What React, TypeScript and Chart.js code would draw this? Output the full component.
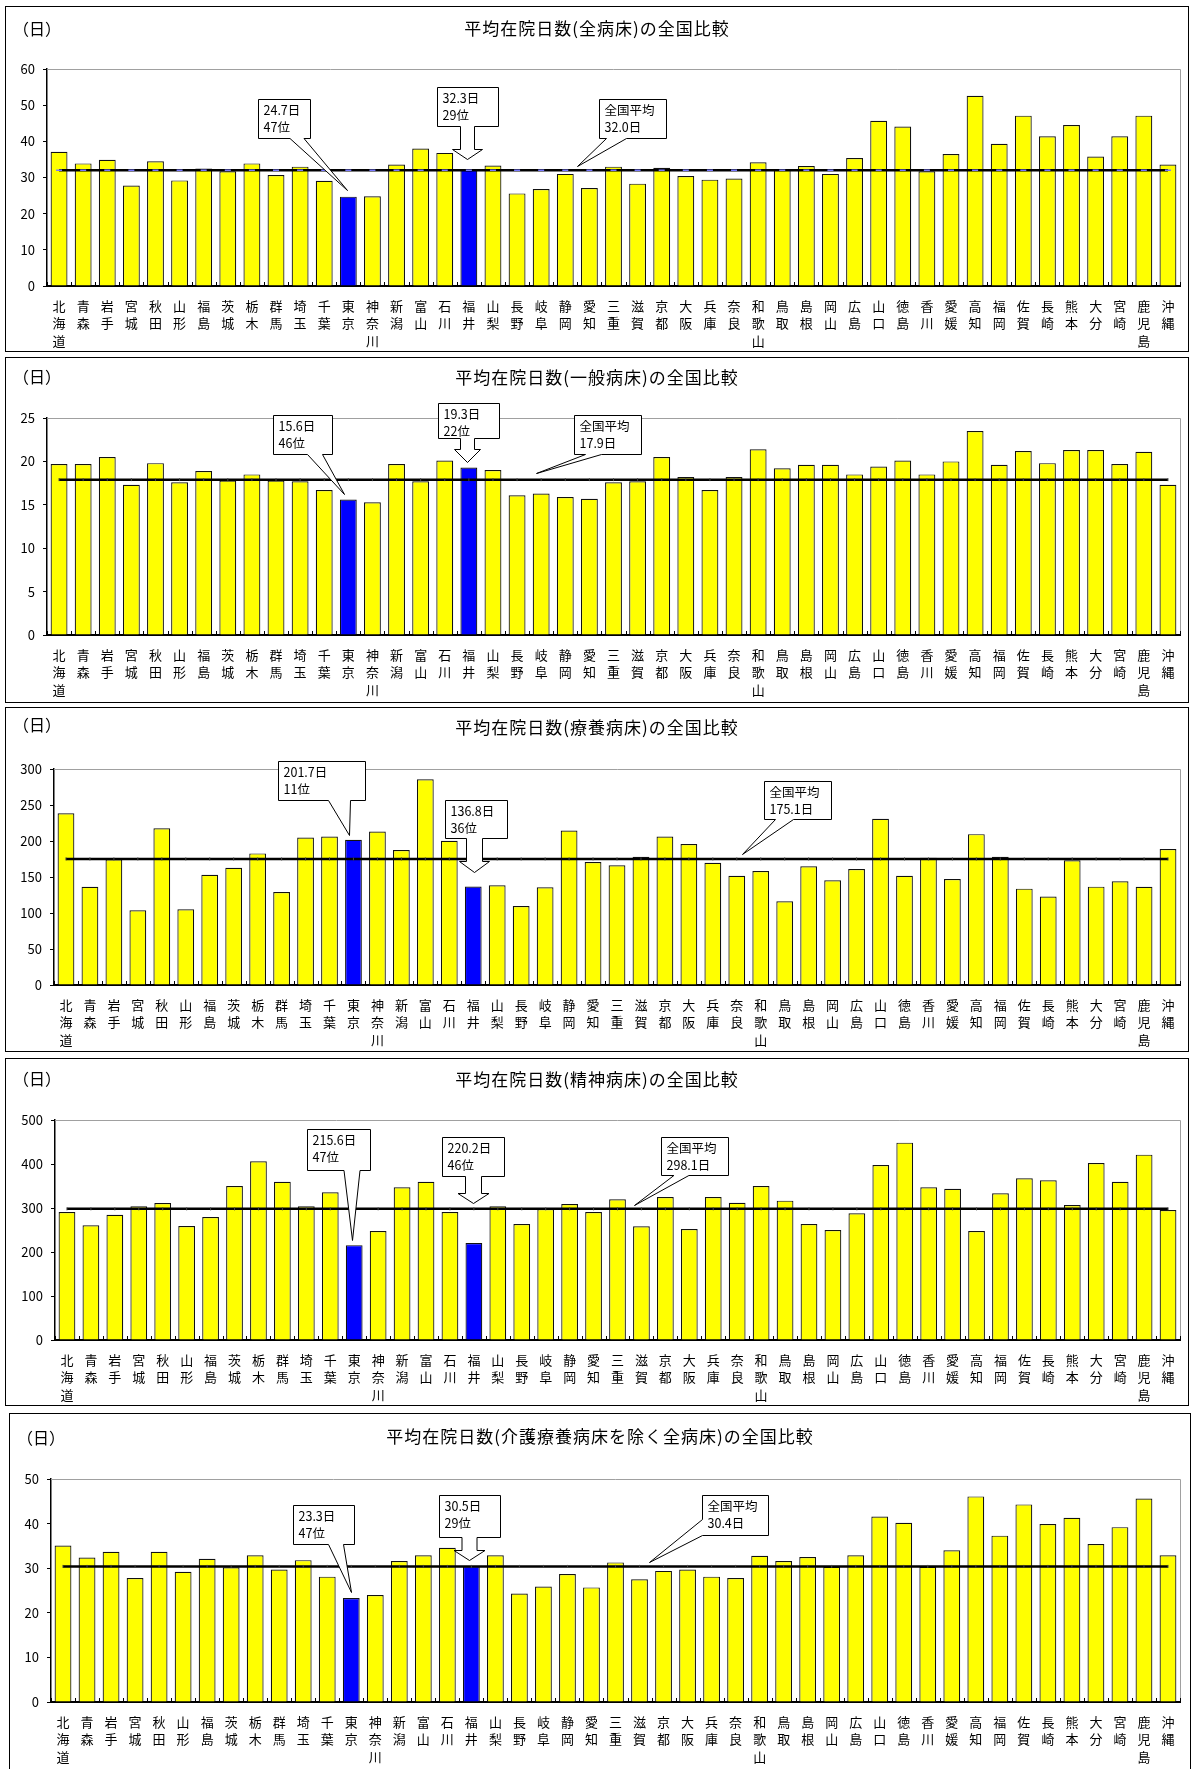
import React, { useEffect, useRef } from 'react';
import { Chart, registerables } from 'chart.js';

Chart.register(...registerables);

const FONT = "'Noto Sans CJK JP', 'Noto Sans', sans-serif";
Chart.defaults.font.family = FONT;

// ---------- data ----------
const prefectures = [
  '北海道', '青森', '岩手', '宮城', '秋田', '山形', '福島', '茨城', '栃木', '群馬', '埼玉', '千葉',
  '東京', '神奈川', '新潟', '富山', '石川', '福井', '山梨', '長野', '岐阜', '静岡', '愛知', '三重',
  '滋賀', '京都', '大阪', '兵庫', '奈良', '和歌山', '鳥取', '島根', '岡山', '広島', '山口', '徳島',
  '香川', '愛媛', '高知', '福岡', '佐賀', '長崎', '熊本', '大分', '宮崎', '鹿児島', '沖縄',
];

const highlightIdx = [12, 17]; // 東京, 福井

const allBedsDays = [
  37.1, 33.9, 34.9, 27.8, 34.5, 29.2, 32.5, 31.7, 33.9, 30.7, 33.0, 29.1,
  24.7, 24.8, 33.6, 38.0, 36.8, 32.3, 33.3, 25.6, 26.8, 31.0, 27.1, 33.0,
  28.3, 32.7, 30.4, 29.4, 29.7, 34.2, 32.1, 33.2, 31.0, 35.4, 45.7, 44.1,
  31.7, 36.5, 52.6, 39.3, 47.1, 41.4, 44.5, 35.8, 41.4, 47.1, 33.6,
];
const generalBedsDays = [
  19.7, 19.7, 20.5, 17.3, 19.8, 17.6, 18.9, 17.8, 18.5, 17.8, 17.7, 16.7,
  15.6, 15.3, 19.7, 17.7, 20.1, 19.3, 19.0, 16.1, 16.3, 15.9, 15.7, 17.6,
  17.7, 20.5, 18.2, 16.7, 18.2, 21.4, 19.2, 19.6, 19.6, 18.5, 19.4, 20.1,
  18.5, 20.0, 23.5, 19.6, 21.2, 19.8, 21.3, 21.3, 19.7, 21.1, 17.3,
];
const longTermBedsDays = [
  238.6, 136.5, 174.5, 103.8, 217.8, 105.2, 153.2, 162.9, 182.8, 129.2, 204.9, 206.3,
  201.7, 213.2, 187.4, 285.7, 200.3, 136.8, 138.5, 109.8, 135.7, 214.6, 170.8, 166.2,
  178.2, 206.3, 195.7, 169.8, 151.8, 158.3, 116.3, 164.8, 145.4, 161.1, 230.8, 151.8,
  176.8, 147.2, 209.5, 178.2, 133.8, 122.8, 173.1, 136.6, 144.0, 136.3, 188.8,
];
const psychBedsDays = [
  290.9, 260.6, 284.8, 303.8, 311.4, 259.1, 279.5, 350.0, 406.1, 359.8, 303.8, 335.6,
  215.6, 247.7, 347.0, 359.8, 290.9, 220.2, 303.8, 263.6, 297.7, 309.1, 290.9, 319.7,
  258.3, 325.0, 252.3, 325.0, 312.1, 350.0, 316.7, 263.6, 250.0, 287.9, 397.7, 448.5,
  347.0, 343.9, 247.7, 333.3, 367.4, 362.9, 306.8, 402.3, 359.8, 421.2, 295.5,
];
const exclCareBedsDays = [
  35.1, 32.4, 33.7, 27.8, 33.7, 29.2, 32.1, 30.2, 32.9, 29.7, 31.8, 28.1,
  23.3, 24.0, 31.6, 32.9, 34.6, 30.5, 32.9, 24.3, 25.9, 28.7, 25.7, 31.3,
  27.5, 29.4, 29.7, 28.1, 27.8, 32.8, 31.6, 32.5, 30.3, 32.9, 41.6, 40.2,
  30.3, 34.0, 46.1, 37.3, 44.3, 39.9, 41.3, 35.4, 39.2, 45.6, 32.9,
];

const nationalAverages = [32.0, 17.9, 175.1, 298.1, 30.4];
const axisMax = [60, 25, 300, 500, 50];
const axisStep = [10, 5, 50, 100, 10];
const titles = [
  '平均在院日数(全病床)の全国比較',
  '平均在院日数(一般病床)の全国比較',
  '平均在院日数(療養病床)の全国比較',
  '平均在院日数(精神病床)の全国比較',
  '平均在院日数(介護療養病床を除く全病床)の全国比較',
];
const tokyoLabels = [['24.7日', '47位'], ['15.6日', '46位'], ['201.7日', '11位'], ['215.6日', '47位'], ['23.3日', '47位']];
const fukuiLabels = [['32.3日', '29位'], ['19.3日', '22位'], ['136.8日', '36位'], ['220.2日', '46位'], ['30.5日', '29位']];
const averageLabels = [['全国平均', '32.0日'], ['全国平均', '17.9日'], ['全国平均', '175.1日'], ['全国平均', '298.1日'], ['全国平均', '30.4日']];
const seriesList = [allBedsDays, generalBedsDays, longTermBedsDays, psychBedsDays, exclCareBedsDays];

// ---------- layout / callout geometry ----------
type Callout = {
  kind: 'wedge' | 'arrow';
  at: number;
  dx: number;
  value: number;
  box: [number, number, number, number];
  edge?: 'bottom' | 'left';
  a?: number;
  b?: number;
  sw?: number;
  hw?: number;
  shaftEnd?: number;
  lines: string[];
};

type PanelCfg = {
  left: number; top: number; w: number; h: number;
  plotLeft: number; plotRight: number; plotTop: number; plotBottom: number;
  unitY: number; titleY: number;
  markerBlue: boolean;
  callouts: Callout[];
};

const panels: PanelCfg[] = [
  {
    left: 5, top: 6, w: 1184, h: 346, plotLeft: 41, plotRight: 1174, plotTop: 62, plotBottom: 279,
    unitY: 21, titleY: 21, markerBlue: true,
    callouts: [
      { kind: 'wedge', at: 12, dx: -1, value: 26.5, box: [-89.5, -92, 52, 39], edge: 'bottom', a: 31.5, b: 45.5, lines: tokyoLabels[0] },
      { kind: 'arrow', at: 17, dx: -2, value: 35.1, box: [-30.7, -73, 61, 39], sw: 14, hw: 30, shaftEnd: -11, lines: fukuiLabels[0] },
      { kind: 'wedge', at: 21.5, dx: 0, value: 33.2, box: [21, -68, 67, 39], edge: 'bottom', a: 7, b: 27, lines: averageLabels[0] },
    ],
  },
  {
    left: 5, top: 357, w: 1184, h: 346, plotLeft: 41, plotRight: 1174, plotTop: 60, plotBottom: 277,
    unitY: 18, titleY: 19, markerBlue: false,
    callouts: [
      { kind: 'wedge', at: 12, dx: -4, value: 16.2, box: [-72, -80, 59, 39], edge: 'bottom', a: 34, b: 49, lines: tokyoLabels[1] },
      { kind: 'arrow', at: 17, dx: -2, value: 19.9, box: [-30, -60, 61, 35], sw: 14, hw: 26, shaftEnd: -14, lines: fukuiLabels[1] },
      { kind: 'wedge', at: 19.8, dx: 0, value: 18.7, box: [37, -59, 67, 39], edge: 'bottom', a: 11, b: 27, lines: averageLabels[1] },
    ],
  },
  {
    left: 5, top: 707, w: 1184, h: 345, plotLeft: 48, plotRight: 1174, plotTop: 61, plotBottom: 277,
    unitY: 16, titleY: 19, markerBlue: false,
    callouts: [
      { kind: 'wedge', at: 12, dx: -4, value: 208.3, box: [-72, -75, 87, 39], edge: 'bottom', a: 50, b: 72, lines: tokyoLabels[2] },
      { kind: 'arrow', at: 17, dx: 1, value: 157, box: [-30, -73, 62, 38], sw: 16, hw: 30, shaftEnd: -12, lines: fukuiLabels[2] },
      { kind: 'wedge', at: 28.2, dx: 0, value: 182, box: [21, -74, 67, 38], edge: 'bottom', a: 11, b: 29, lines: averageLabels[2] },
    ],
  },
  {
    left: 5, top: 1058, w: 1184, h: 348, plotLeft: 49, plotRight: 1174, plotTop: 61, plotBottom: 281,
    unitY: 19, titleY: 20, markerBlue: false,
    callouts: [
      { kind: 'wedge', at: 12, dx: -2, value: 227, box: [-45.5, -112, 62.5, 41], edge: 'bottom', a: 36.5, b: 52.5, lines: tokyoLabels[3] },
      { kind: 'arrow', at: 17, dx: -1, value: 311, box: [-31.4, -67, 62.4, 39], sw: 16, hw: 31, shaftEnd: -11, lines: fukuiLabels[3] },
      { kind: 'wedge', at: 23.7, dx: 0, value: 307, box: [26.6, -69, 67.4, 38], edge: 'bottom', a: 12.4, b: 27.4, lines: averageLabels[3] },
    ],
  },
  {
    left: 9, top: 1413, w: 1182, h: 380, plotLeft: 41, plotRight: 1170, plotTop: 65, plotBottom: 288,
    unitY: 23, titleY: 22, markerBlue: false,
    callouts: [
      { kind: 'wedge', at: 12, dx: 0, value: 24.7, box: [-59, -88, 60.5, 39], edge: 'bottom', a: 35, b: 50, lines: tokyoLabels[4] },
      { kind: 'arrow', at: 17, dx: -2, value: 31.8, box: [-30.3, -66, 61.3, 42], sw: 15, hw: 31, shaftEnd: -11, lines: fukuiLabels[4] },
      { kind: 'wedge', at: 24.4, dx: 0, value: 31.4, box: [52, -68, 66, 40], edge: 'left', a: 24, b: 40, lines: averageLabels[4] },
    ],
  },
];

function drawCallouts(chart: any, callouts: Callout[]) {
  const { ctx } = chart;
  const xs = chart.scales.x;
  const ys = chart.scales.y;
  ctx.save();
  ctx.lineWidth = 1;
  ctx.strokeStyle = '#000';
  ctx.lineJoin = 'miter';
  for (const c of callouts) {
    const tx = Math.round(xs.getPixelForValue(c.at) + c.dx) + 0.5;
    const ty = Math.round(ys.getPixelForValue(c.value)) + 0.5;
    const L = Math.round(tx + c.box[0]) + 0.5;
    const T = Math.round(ty + c.box[1]) + 0.5;
    const R = L + Math.round(c.box[2]);
    const B = T + Math.round(c.box[3]);
    ctx.beginPath();
    ctx.moveTo(L, T);
    ctx.lineTo(R, T);
    ctx.lineTo(R, B);
    if (c.kind === 'arrow') {
      const sw = (c.sw || 14) / 2;
      const hw = (c.hw || 30) / 2;
      const sy = Math.round(ty + (c.shaftEnd || -10)) + 0.5;
      ctx.lineTo(tx + sw, B);
      ctx.lineTo(tx + sw, sy);
      ctx.lineTo(tx + hw, sy);
      ctx.lineTo(tx, ty);
      ctx.lineTo(tx - hw, sy);
      ctx.lineTo(tx - sw, sy);
      ctx.lineTo(tx - sw, B);
      ctx.lineTo(L, B);
    } else if (c.edge === 'left') {
      ctx.lineTo(L, B);
      ctx.lineTo(L, T + (c.b || 0));
      ctx.lineTo(tx, ty);
      ctx.lineTo(L, T + (c.a || 0));
    } else {
      ctx.lineTo(L + (c.b || 0), B);
      ctx.lineTo(tx, ty);
      ctx.lineTo(L + (c.a || 0), B);
      ctx.lineTo(L, B);
    }
    ctx.closePath();
    ctx.fillStyle = '#fff';
    ctx.fill();
    ctx.stroke();
    ctx.fillStyle = '#000';
    ctx.font = `12.5px ${FONT}`;
    ctx.textBaseline = 'middle';
    ctx.textAlign = 'left';
    c.lines.forEach((t, i) => ctx.fillText(t, L + 5, T + 11 + i * 17));
  }
  ctx.restore();
}

function ChartPanel({ idx }: { idx: number }) {
  const ref = useRef<HTMLCanvasElement>(null);
  const cfg = panels[idx];
  const W = cfg.w - 2;
  const H = cfg.h - 2;

  useEffect(() => {
    const values = seriesList[idx];
    const avg = nationalAverages[idx];
    const decorPlugin = {
      id: 'decor' + idx,
      beforeDatasetsDraw(chart: any) {
        const { ctx, chartArea: a } = chart;
        ctx.save();
        ctx.strokeStyle = '#a0a0a0';
        ctx.lineWidth = 1;
        ctx.beginPath();
        ctx.moveTo(a.left, Math.round(a.top) + 0.5);
        ctx.lineTo(Math.round(a.right) + 0.5, Math.round(a.top) + 0.5);
        ctx.lineTo(Math.round(a.right) + 0.5, a.bottom);
        ctx.stroke();
        ctx.restore();
      },
      afterDatasetsDraw(chart: any) {
        const { ctx, chartArea: a } = chart;
        const xs = chart.scales.x;
        ctx.save();
        ctx.strokeStyle = '#000';
        ctx.lineWidth = 1;
        ctx.beginPath();
        for (let i = 0; i <= prefectures.length; i++) {
          const x = Math.round(xs.getPixelForValue(i - 0.5)) + 0.5;
          ctx.moveTo(x, a.bottom);
          ctx.lineTo(x, a.bottom - 4);
        }
        ctx.stroke();
        ctx.restore();
        drawCallouts(chart, cfg.callouts);
      },
    };

    const chart = new Chart(ref.current as HTMLCanvasElement, {
      type: 'bar',
      data: {
        labels: prefectures.map((p) => Array.from(p)),
        datasets: [
          {
            type: 'line',
            data: prefectures.map(() => avg),
            borderColor: '#000',
            borderWidth: 2.5,
            tension: 0,
            fill: false,
            pointStyle: 'line',
            pointRadius: cfg.markerBlue ? 3 : 1.5,
            pointRotation: cfg.markerBlue ? 0 : 90,
            pointBorderColor: cfg.markerBlue ? '#7a7aff' : '#444',
            pointBorderWidth: cfg.markerBlue ? 1.5 : 1,
            order: 0,
          } as any,
          {
            type: 'bar',
            data: values,
            backgroundColor: values.map((_, i) => (highlightIdx.includes(i) ? '#0000ff' : '#ffff00')),
            borderColor: '#111',
            borderWidth: 1.2,
            barPercentage: 0.7,
            categoryPercentage: 1,
            order: 1,
          } as any,
        ],
      },
      options: {
        animation: false,
        responsive: false,
        maintainAspectRatio: false,
        events: [],
        layout: { padding: { top: cfg.plotTop, right: W - cfg.plotRight, left: 0, bottom: 0 } },
        plugins: { legend: { display: false }, tooltip: { enabled: false }, title: { display: false } },
        scales: {
          x: {
            offset: true,
            grid: { display: false, drawTicks: false },
            border: { display: true, color: '#000', width: 2 },
            ticks: {
              autoSkip: false,
              maxRotation: 0,
              minRotation: 0,
              padding: 11,
              color: '#000',
              font: { family: FONT, size: 13, lineHeight: '17.5px' } as any,
            },
            afterFit: (s: any) => {
              s.height = H - cfg.plotBottom;
            },
          },
          y: {
            min: 0,
            max: axisMax[idx],
            ticks: { stepSize: axisStep[idx], padding: 8, color: '#000', font: { family: FONT, size: 13 } },
            grid: { drawOnChartArea: false, drawTicks: true, tickLength: 4, color: '#000' },
            border: { color: '#000', width: 1.5 },
            afterFit: (s: any) => {
              s.width = cfg.plotLeft;
            },
          },
        },
      } as any,
      plugins: [decorPlugin],
    });
    return () => chart.destroy();
  }, []);

  return (
    <div
      style={{
        position: 'absolute',
        left: cfg.left,
        top: cfg.top,
        width: cfg.w,
        height: cfg.h,
        border: '1px solid #000',
        boxSizing: 'border-box',
        background: '#fff',
      }}
    >
      <canvas ref={ref} width={W} height={H} style={{ position: 'absolute', left: 0, top: 0, width: W, height: H }} />
      <div
        style={{
          position: 'absolute',
          left: 7,
          top: cfg.unitY,
          transform: 'translateY(-50%)',
          font: `16px ${FONT}`,
          lineHeight: '18px',
          color: '#000',
          whiteSpace: 'nowrap',
        }}
      >
        （日）
      </div>
      <div
        style={{
          position: 'absolute',
          left: 0,
          width: '100%',
          top: cfg.titleY,
          transform: 'translateY(-50%)',
          textAlign: 'center',
          font: `17px ${FONT}`,
          letterSpacing: '1px',
          lineHeight: '20px',
          color: '#000',
          whiteSpace: 'nowrap',
        }}
      >
        {titles[idx]}
      </div>
    </div>
  );
}

export default function App() {
  return (
    <div
      style={{
        position: 'absolute',
        left: 0,
        top: 0,
        width: 1192,
        height: 1769,
        overflow: 'hidden',
        background: '#fff',
      }}
    >
      {panels.map((_, i) => (
        <ChartPanel key={i} idx={i} />
      ))}
    </div>
  );
}
